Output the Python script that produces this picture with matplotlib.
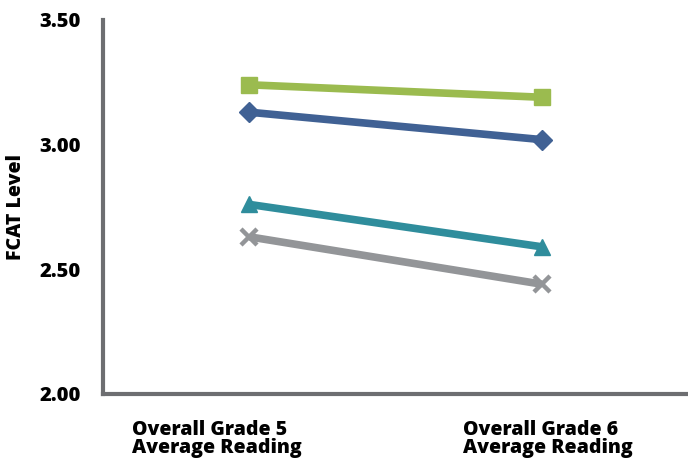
import matplotlib
matplotlib.use("Agg")
import matplotlib.pyplot as plt

categories = ["Overall Grade 5\nAverage Reading", "Overall Grade 6\nAverage Reading"]
green_sq = [3.24, 3.19]
blue_dia = [3.13, 3.02]
teal_tri = [2.76, 2.59]
gray_x = [2.63, 2.44]
yticks = [2.00, 2.50, 3.00, 3.50]
ytick_labels = ["2.00", "2.50", "3.00", "3.50"]

plt.rcParams['font.family'] = ['Open Sans', 'DejaVu Sans']
fig = plt.figure(figsize=(6.88, 4.65), dpi=100)
ax = fig.add_axes([0.15, 0.153, 0.85, 0.804])

xs = list(range(len(categories)))
ax.plot(xs, green_sq, color='#9BBB4F', lw=5.5, marker='s', ms=11, solid_capstyle='butt', zorder=3)
ax.plot(xs, blue_dia, color='#406194', lw=5.5, marker='D', ms=10, solid_capstyle='butt', zorder=3)
ax.plot(xs, teal_tri, color='#2F8D9C', lw=5.5, marker='^', ms=12, solid_capstyle='butt', zorder=3)
ax.plot(xs, gray_x, color='#939598', lw=5.5, marker='x', ms=12, mew=3.2, solid_capstyle='butt', zorder=3)

ax.set_xlim(-0.5, 1.5)
ax.set_ylim(2.0, 3.5)
ax.set_yticks(yticks)
ax.set_yticklabels(ytick_labels, fontsize=14.5, fontweight='heavy')
ax.tick_params(axis='y', length=0, pad=16)
ax.set_xticks([])
for s in ['top', 'right']:
    ax.spines[s].set_visible(False)
for s in ['left', 'bottom']:
    ax.spines[s].set_color('#6D6E71')
    ax.spines[s].set_linewidth(3)
ax.set_ylabel("FCAT Level", fontsize=14, fontweight='heavy', labelpad=10)

offsets = [-0.11, 1.021]
for x, lab in zip(offsets, categories):
    ax.text(x, -0.07, lab, transform=ax.get_xaxis_transform(), ha='center', va='top',
            multialignment='left', fontsize=14, fontweight='heavy', linespacing=0.85)

fig.savefig("out.png", dpi=100)
